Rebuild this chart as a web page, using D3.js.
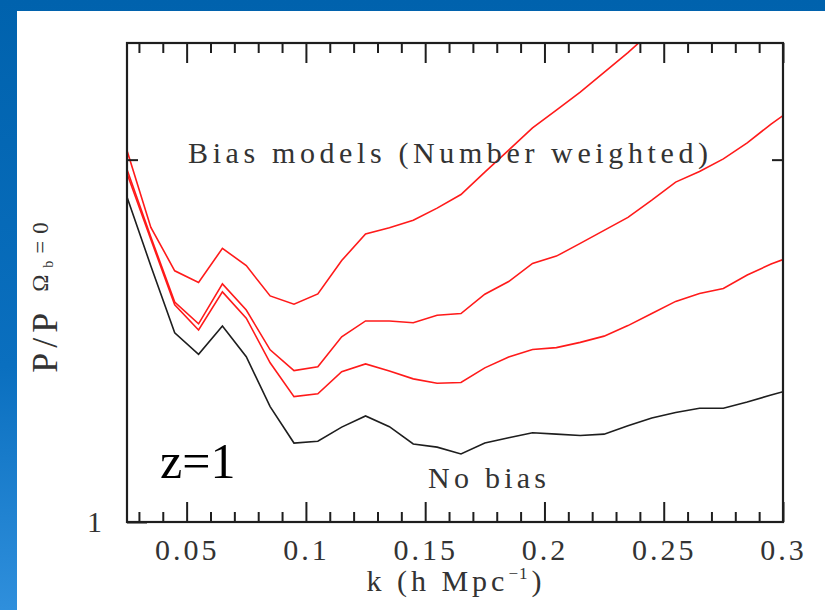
<!DOCTYPE html>
<html>
<head>
<meta charset="utf-8">
<script src="https://cdn.jsdelivr.net/npm/d3@7/dist/d3.min.js"></script>
<style>
  html, body { margin: 0; padding: 0; background: #ffffff; }
  svg { display: block; }
</style>
</head>
<body>
<svg id="chart" width="825" height="610"></svg>
<script>
// ---------- data ----------
const kValues = [0.025, 0.035, 0.045, 0.055, 0.065, 0.075, 0.085, 0.095, 0.105, 0.115,
                 0.125, 0.135, 0.145, 0.155, 0.165, 0.175, 0.185, 0.195, 0.205, 0.215,
                 0.225, 0.235, 0.245, 0.255, 0.265, 0.275, 0.285, 0.295, 0.3];
const biasHigh = [2.035, 1.757, 1.617, 1.581, 1.688, 1.633, 1.541, 1.517, 1.547, 1.649,
                  1.735, 1.756, 1.781, 1.823, 1.871, 1.953, 2.037, 2.125, 2.199, 2.276,
                  2.363, 2.454, 2.558];
const biasMid = [1.963, 1.725, 1.523, 1.461, 1.577, 1.500, 1.390, 1.336, 1.346, 1.425,
                 1.469, 1.469, 1.464, 1.485, 1.490, 1.546, 1.584, 1.640, 1.663, 1.704,
                 1.747, 1.791, 1.851, 1.916, 1.955, 2.003, 2.065, 2.141, 2.176];
const biasLow = [1.948, 1.717, 1.515, 1.444, 1.553, 1.477, 1.356, 1.271, 1.278, 1.333,
                 1.353, 1.335, 1.315, 1.304, 1.306, 1.343, 1.371, 1.391, 1.396, 1.410,
                 1.427, 1.456, 1.490, 1.525, 1.548, 1.563, 1.604, 1.638, 1.652];
const noBias = [1.862, 1.632, 1.436, 1.378, 1.455, 1.372, 1.247, 1.163, 1.167, 1.199,
                1.225, 1.200, 1.161, 1.154, 1.139, 1.163, 1.175, 1.186, 1.183, 1.180,
                1.183, 1.202, 1.220, 1.233, 1.243, 1.243, 1.258, 1.275, 1.283];

const xMajorTicks = [0.05, 0.1, 0.15, 0.2, 0.25, 0.3];
const xMajorLabels = ["0.05", "0.1", "0.15", "0.2", "0.25", "0.3"];
const xMinorTicks = [0.03, 0.04, 0.06, 0.07, 0.08, 0.09, 0.11, 0.12, 0.13, 0.14,
                     0.16, 0.17, 0.18, 0.19, 0.21, 0.22, 0.23, 0.24, 0.26, 0.27, 0.28, 0.29];
const yMajorTicks = [1];
const yMajorLabels = ["1"];
const yMinorTicks = [2];
const xDomain = [0.025, 0.3];
const yDomain = [1, 2.5];

// ---------- layout ----------
const svg = d3.select("#chart");
const W = 825, H = 610;
const plot = { left: 127, right: 783, top: 43, bottom: 522 };

// background
const defs = svg.append("defs");
const grad = defs.append("linearGradient").attr("id", "bg").attr("x1", 0).attr("y1", 0).attr("x2", 0).attr("y2", 1);
grad.append("stop").attr("offset", "0%").attr("stop-color", "#0062ad");
grad.append("stop").attr("offset", "60%").attr("stop-color", "#0a6fbf");
grad.append("stop").attr("offset", "100%").attr("stop-color", "#2f8fdc");
svg.append("rect").attr("width", W).attr("height", H).attr("fill", "url(#bg)");
svg.append("rect").attr("x", 17).attr("y", 11).attr("width", W - 17).attr("height", H - 11).attr("fill", "#ffffff");

defs.append("clipPath").attr("id", "plotclip").append("rect")
  .attr("x", plot.left).attr("y", plot.top)
  .attr("width", plot.right - plot.left).attr("height", plot.bottom - plot.top);

// scales
const x = d3.scaleLinear().domain(xDomain).range([plot.left, plot.right]);
const y = d3.scaleLog().domain(yDomain).range([plot.bottom, plot.top]);

const textColor = "#333333";
const serif = "'Liberation Serif', 'DejaVu Serif', serif";

// lines
const line = d3.line().x(d => x(d[0])).y(d => y(d[1]));
const series = [
  { values: biasHigh, color: "#ff1a1a" },
  { values: biasMid, color: "#ff1a1a" },
  { values: biasLow, color: "#ff1a1a" },
  { values: noBias, color: "#1e1e1e" }
];
const gLines = svg.append("g").attr("clip-path", "url(#plotclip)");
series.forEach(s => {
  const pts = s.values.map((v, i) => [kValues[i], v]);
  gLines.append("path").attr("d", line(pts))
    .attr("fill", "none").attr("stroke", s.color)
    .attr("stroke-width", 1.6).attr("stroke-linejoin", "miter");
});

// axes (ticks pointing inward)
function styleAxis(g) {
  g.select(".domain").remove();
  g.selectAll(".tick line").attr("stroke", "#1e1e1e").attr("stroke-width", 2);
  g.selectAll("text").attr("font-family", serif).attr("fill", textColor)
    .attr("font-size", 30).attr("letter-spacing", "3px");
}

const bottomMajor = svg.append("g").attr("transform", `translate(0,${plot.bottom})`)
  .call(d3.axisBottom(x).tickValues(xMajorTicks).tickSize(-20).tickPadding(17)
    .tickFormat((d, i) => xMajorLabels[i]));
styleAxis(bottomMajor);
const bottomMinor = svg.append("g").attr("transform", `translate(0,${plot.bottom})`)
  .call(d3.axisBottom(x).tickValues(xMinorTicks).tickSize(-10).tickFormat(""));
styleAxis(bottomMinor);
const topMajor = svg.append("g").attr("transform", `translate(0,${plot.top})`)
  .call(d3.axisTop(x).tickValues(xMajorTicks).tickSize(-20).tickFormat(""));
styleAxis(topMajor);
const topMinor = svg.append("g").attr("transform", `translate(0,${plot.top})`)
  .call(d3.axisTop(x).tickValues(xMinorTicks).tickSize(-10).tickFormat(""));
styleAxis(topMinor);

const leftMajor = svg.append("g").attr("transform", `translate(${plot.left},0)`)
  .call(d3.axisLeft(y).tickValues(yMajorTicks).tickSize(-20).tickPadding(22)
    .tickFormat((d, i) => yMajorLabels[i]));
styleAxis(leftMajor);
const leftMinor = svg.append("g").attr("transform", `translate(${plot.left},0)`)
  .call(d3.axisLeft(y).tickValues(yMinorTicks).tickSize(-11).tickFormat(""));
styleAxis(leftMinor);
const rightMinor = svg.append("g").attr("transform", `translate(${plot.right},0)`)
  .call(d3.axisRight(y).tickValues(yMinorTicks).tickSize(-11).tickFormat(""));
styleAxis(rightMinor);

// frame
svg.append("rect").attr("x", plot.left).attr("y", plot.top)
  .attr("width", plot.right - plot.left).attr("height", plot.bottom - plot.top)
  .attr("fill", "none").attr("stroke", "#1e1e1e").attr("stroke-width", 2.2);

// annotations
svg.append("text").attr("x", 188).attr("y", 163)
  .attr("font-family", serif).attr("font-size", 30).attr("fill", textColor)
  .attr("textLength", 520).attr("lengthAdjust", "spacing")
  .text("Bias models (Number weighted)");

svg.append("text").attr("x", 428).attr("y", 488)
  .attr("font-family", serif).attr("font-size", 30).attr("fill", textColor)
  .attr("textLength", 118).attr("lengthAdjust", "spacing")
  .text("No bias");

svg.append("text").attr("x", 160).attr("y", 478)
  .attr("font-family", "'Liberation Serif', serif").attr("font-size", 50).attr("fill", "#000")
  .text("z=1");

// x axis title
const xt = svg.append("text").attr("x", 456).attr("y", 591)
  .attr("text-anchor", "middle").attr("font-family", serif)
  .attr("font-size", 30).attr("fill", textColor).attr("letter-spacing", "4px");
xt.append("tspan").text("k (h Mpc");
xt.append("tspan").attr("font-size", 17).attr("dy", -12).attr("letter-spacing", "1px").text("−1");
xt.append("tspan").attr("dy", 12).attr("dx", 3).text(")");

// y axis title
const yt = svg.append("text").attr("transform", "translate(57,294) rotate(-90)")
  .attr("text-anchor", "middle").attr("font-family", serif)
  .attr("font-size", 36).attr("fill", textColor).attr("letter-spacing", "5px");
yt.append("tspan").text("P/P");
yt.append("tspan").attr("dx", 16).attr("dy", -9).attr("font-size", 23).attr("letter-spacing", "7px").text("Ω");
yt.append("tspan").attr("dy", 5).attr("font-size", 14).attr("letter-spacing", "7px").text("b");
yt.append("tspan").attr("dy", -5).attr("font-size", 23).attr("letter-spacing", "7px").text("=0");
</script>
</body>
</html>
